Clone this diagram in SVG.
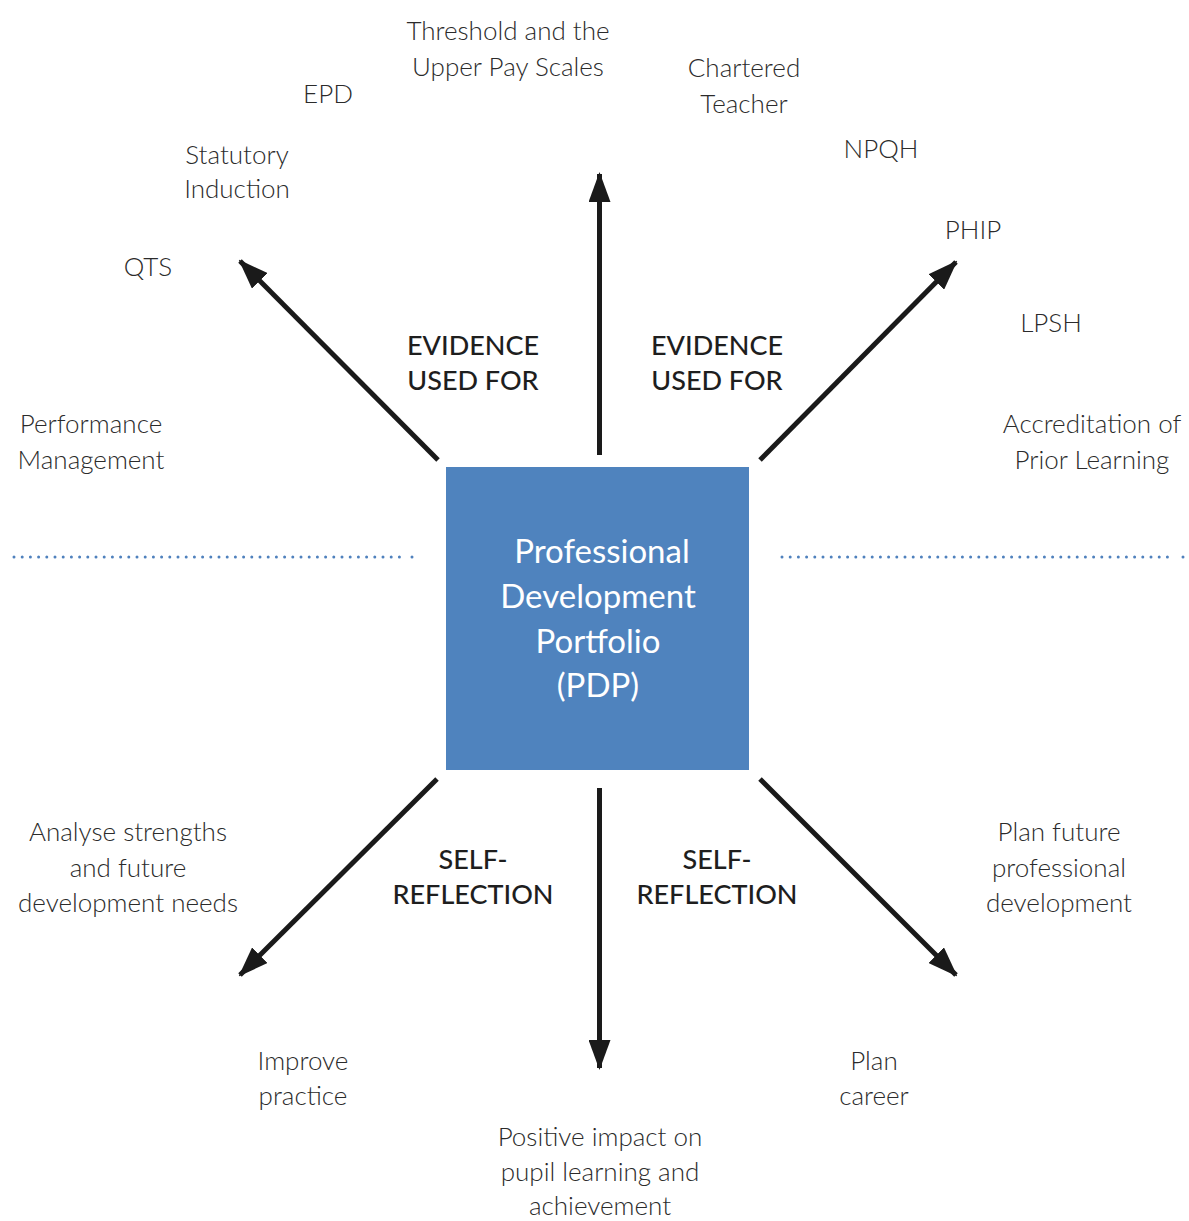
<svg xmlns="http://www.w3.org/2000/svg" width="1189" height="1221" viewBox="0 0 1189 1221">
<style>
.lbl{font-family:Lato,"Open Sans","Liberation Sans",sans-serif;font-weight:300;font-size:26px;fill:#2b2b2b;text-anchor:middle}
.cap{font-family:Lato,"Open Sans","Liberation Sans",sans-serif;font-weight:500;font-size:27px;fill:#1e1e1e;text-anchor:middle}
.ctr{font-family:Lato,"Open Sans","Liberation Sans",sans-serif;font-weight:400;font-size:33px;fill:#ffffff;text-anchor:middle}
.arr{stroke:#1a1a1a;stroke-width:5;fill:none;marker-end:url(#ah)}
.dot{stroke:#4f81bd;stroke-width:3;stroke-linecap:round;stroke-dasharray:0 8.2;fill:none}
</style>
<defs>
<marker id="ah" markerUnits="userSpaceOnUse" markerWidth="30" markerHeight="22" refX="28" refY="11" orient="auto" viewBox="0 0 30 22">
<path d="M0,0 L30,11 L0,22 Z" fill="#1a1a1a"/>
</marker>
</defs>
<rect width="1189" height="1221" fill="#ffffff"/>
<g id="connectors">
<line class="arr" x1="599.5" y1="455" x2="599.5" y2="174"/>
<line class="arr" x1="599.5" y1="788" x2="599.5" y2="1068"/>
<line class="arr" x1="438" y1="460" x2="240" y2="261"/>
<line class="arr" x1="760" y1="460" x2="956" y2="262"/>
<line class="arr" x1="437" y1="779" x2="240" y2="975"/>
<line class="arr" x1="760" y1="779" x2="956" y2="975"/>
<line class="dot" x1="14" y1="557" x2="404" y2="557"/>
<line class="dot" x1="412" y1="557" x2="413" y2="557"/>
<line class="dot" x1="782" y1="557" x2="1172" y2="557"/>
<line class="dot" x1="1183" y1="557" x2="1184" y2="557"/>
</g>
<g id="pdp">
<rect x="446" y="467" width="303" height="303" fill="#4f83be"/>
<text class="ctr" x="602" y="563">Professional</text>
<text class="ctr" x="598" y="608">Development</text>
<text class="ctr" x="598" y="653">Portfolio</text>
<text class="ctr" x="598" y="697">(PDP)</text>
</g>
<g id="threshold"><text class="lbl" x="508" y="40">Threshold and the</text><text class="lbl" x="508" y="76">Upper Pay Scales</text></g>
<g id="epd"><text class="lbl" x="328" y="103">EPD</text></g>
<g id="chartered"><text class="lbl" x="744" y="77">Chartered</text><text class="lbl" x="744" y="113">Teacher</text></g>
<g id="statutory"><text class="lbl" x="237" y="164">Statutory</text><text class="lbl" x="237" y="198">Induction</text></g>
<g id="npqh"><text class="lbl" x="881" y="158">NPQH</text></g>
<g id="qts"><text class="lbl" x="148" y="276">QTS</text></g>
<g id="phip"><text class="lbl" x="973" y="239">PHIP</text></g>
<g id="lpsh"><text class="lbl" x="1051" y="332">LPSH</text></g>
<g id="performance"><text class="lbl" x="91" y="433">Performance</text><text class="lbl" x="91" y="469">Management</text></g>
<g id="accreditation"><text class="lbl" x="1092" y="433">Accreditation of</text><text class="lbl" x="1092" y="469">Prior Learning</text></g>
<g id="evidence-left"><text class="cap" x="473" y="355">EVIDENCE</text><text class="cap" x="473" y="390">USED FOR</text></g>
<g id="evidence-right"><text class="cap" x="717" y="355">EVIDENCE</text><text class="cap" x="717" y="390">USED FOR</text></g>
<g id="analyse"><text class="lbl" x="128" y="841">Analyse strengths</text><text class="lbl" x="128" y="877">and future</text><text class="lbl" x="128" y="912">development needs</text></g>
<g id="self-left"><text class="cap" x="473" y="869">SELF-</text><text class="cap" x="473" y="904">REFLECTION</text></g>
<g id="self-right"><text class="cap" x="717" y="869">SELF-</text><text class="cap" x="717" y="904">REFLECTION</text></g>
<g id="planfuture"><text class="lbl" x="1059" y="841">Plan future</text><text class="lbl" x="1059" y="877">professional</text><text class="lbl" x="1059" y="912">development</text></g>
<g id="improve"><text class="lbl" x="303" y="1070">Improve</text><text class="lbl" x="303" y="1105">practice</text></g>
<g id="plancareer"><text class="lbl" x="874" y="1070">Plan</text><text class="lbl" x="874" y="1105">career</text></g>
<g id="positive"><text class="lbl" x="600" y="1146">Positive impact on</text><text class="lbl" x="600" y="1181">pupil learning and</text><text class="lbl" x="600" y="1215">achievement</text></g>
</svg>
